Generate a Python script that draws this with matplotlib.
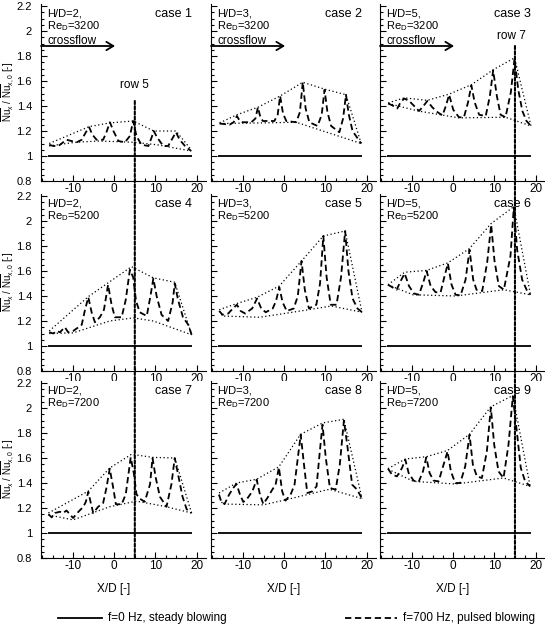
import matplotlib
matplotlib.use('Agg')
import matplotlib.pyplot as plt
from matplotlib.patches import ConnectionPatch
from matplotlib.lines import Line2D
from matplotlib.ticker import MultipleLocator, FuncFormatter

plt.rcParams['font.family'] = ['Liberation Sans', 'DejaVu Sans']
plt.rcParams['mathtext.fontset'] = 'custom'
plt.rcParams['mathtext.rm'] = 'Liberation Sans'
plt.rcParams['mathtext.it'] = 'Liberation Sans:italic'
plt.rcParams['axes.unicode_minus'] = False

# ---- data ----
hd_values = [2, 3, 5]
re_values = [3200, 5200, 7200]
steady_x = [-16.0, 18.8]
steady_y = [1.0, 1.0]

# case 1 : H/D=2, Re=3200
c1_x = [-15.8, -14.8, -13.6, -12.8, -11.6, -10.4, -9.1, -7.9, -6.9, -6.1, -5.3, -4.3, -2.7, -1.9, -1.05,
        -0.2, 1.0, 2.6, 3.8, 4.6, 5.4, 6.6, 8.3, 9.1, 9.6, 10.4, 11.9, 13.1, 14.3, 15.0, 15.9, 17.2, 18.7]
c1_y = [1.09, 1.08, 1.08, 1.10, 1.13, 1.12, 1.11, 1.13, 1.19, 1.23, 1.17, 1.13, 1.13, 1.19, 1.27,
        1.20, 1.12, 1.11, 1.16, 1.28, 1.16, 1.09, 1.08, 1.15, 1.20, 1.15, 1.08, 1.08, 1.15, 1.19, 1.13, 1.08, 1.04]
c1_top_x = [-15.8, -6.1, -1.05, 4.6, 9.6, 15.0, 18.7]
c1_top_y = [1.10, 1.235, 1.265, 1.28, 1.20, 1.20, 1.05]
c1_low_x = [-15.8, -9.5, -3.5, 4.6, 10.4, 18.7]
c1_low_y = [1.08, 1.11, 1.12, 1.11, 1.09, 1.04]

# case 2 : H/D=3, Re=3200
c2_x = [-15.7, -13.3, -12.3, -11.5, -10.8, -10.1, -8.0, -7.0, -6.4, -5.8, -5.2, -2.4, -1.6, -1.0, -0.3, 0.5,
        2.9, 3.8, 4.5, 5.2, 6.1, 8.1, 9.1, 9.8, 10.5, 11.4, 13.4, 14.3, 15.0, 15.7, 16.6, 18.7]
c2_y = [1.26, 1.25, 1.27, 1.32, 1.28, 1.27, 1.27, 1.30, 1.39, 1.31, 1.28, 1.28, 1.33, 1.48, 1.34, 1.28,
        1.27, 1.35, 1.59, 1.38, 1.27, 1.24, 1.33, 1.53, 1.35, 1.24, 1.19, 1.30, 1.49, 1.33, 1.20, 1.10]
c2_top_x = [-15.7, -11.5, -6.4, -1.0, 4.5, 9.8, 15.0, 18.7]
c2_top_y = [1.265, 1.33, 1.39, 1.48, 1.59, 1.535, 1.49, 1.10]
c2_low_x = [-15.7, -5.0, 2.9, 18.7]
c2_low_y = [1.26, 1.265, 1.27, 1.10]

# case 3 : H/D=5, Re=3200
c3_x = [-15.8, -14.8, -13.6, -12.8, -11.9, -10.7, -9.5, -8.3, -7.5, -6.3, -5.1, -3.8, -2.6, -1.8, -1.0, 0.0,
        1.4, 2.6, 3.6, 4.4, 5.2, 6.3, 7.9, 8.9, 9.7, 10.6, 11.5, 12.7, 14.0, 14.9, 15.8, 16.8, 17.8, 18.9]
c3_y = [1.42, 1.405, 1.38, 1.43, 1.46, 1.44, 1.40, 1.36, 1.39, 1.44, 1.39, 1.35, 1.325, 1.40, 1.49, 1.37,
        1.31, 1.31, 1.43, 1.565, 1.43, 1.33, 1.32, 1.48, 1.685, 1.48, 1.33, 1.31, 1.51, 1.78, 1.53, 1.36, 1.28, 1.24]
c3_top_x = [-15.8, -11.9, -6.3, -1.0, 4.4, 9.7, 14.9, 18.9]
c3_top_y = [1.425, 1.465, 1.445, 1.495, 1.57, 1.69, 1.785, 1.24]
c3_low_x = [-15.8, -8.5, 1.4, 12.7, 18.9]
c3_low_y = [1.42, 1.36, 1.305, 1.31, 1.24]

# case 4 : H/D=2, Re=5200
c4_x = [-15.8, -14.8, -14.0, -13.2, -12.0, -11.2, -10.0, -8.7, -7.9, -7.1, -6.3, -5.5, -4.7, -3.5, -2.5, -1.5,
        -0.65, 0.16, 1.8, 2.8, 3.8, 4.6, 5.3, 6.2, 7.9, 8.8, 9.5, 10.3, 11.5, 13.1, 14.2, 14.7, 15.5, 16.7, 18.0, 18.8]
c4_y = [1.11, 1.10, 1.12, 1.11, 1.15, 1.11, 1.12, 1.15, 1.17, 1.29, 1.39, 1.27, 1.19, 1.23, 1.29, 1.49,
        1.33, 1.23, 1.23, 1.37, 1.61, 1.55, 1.36, 1.27, 1.24, 1.40, 1.54, 1.40, 1.25, 1.20, 1.35, 1.50, 1.37, 1.23, 1.17, 1.09]
c4_top_x = [-15.8, -6.3, -1.5, 4.2, 9.5, 14.7, 18.8]
c4_top_y = [1.12, 1.395, 1.505, 1.635, 1.545, 1.51, 1.09]
c4_low_x = [-15.8, -10.0, -1.1, 4.6, 9.5, 18.8]
c4_low_y = [1.10, 1.105, 1.20, 1.225, 1.20, 1.09]

# case 5 : H/D=3, Re=5200
c5_x = [-15.8, -15.0, -13.6, -12.5, -11.5, -10.6, -9.5, -7.8, -6.6, -5.6, -4.5, -2.8, -2.0, -1.2, -0.4, 0.6,
        2.3, 3.3, 4.2, 5.0, 6.0, 7.8, 8.7, 9.5, 10.3, 11.3, 12.7, 13.8, 14.8, 15.6, 16.6, 17.8, 18.9]
c5_y = [1.28, 1.25, 1.26, 1.30, 1.33, 1.28, 1.26, 1.30, 1.38, 1.30, 1.27, 1.30, 1.36, 1.47, 1.35, 1.28,
        1.30, 1.40, 1.68, 1.45, 1.30, 1.33, 1.50, 1.88, 1.55, 1.33, 1.33, 1.55, 1.92, 1.60, 1.38, 1.30, 1.27]
c5_top_x = [-15.8, -11.5, -6.6, -1.2, 4.2, 9.5, 14.8, 18.9]
c5_top_y = [1.29, 1.34, 1.39, 1.48, 1.68, 1.88, 1.92, 1.27]
c5_low_x = [-15.8, -15.0, -6.0, 2.0, 11.5, 18.9]
c5_low_y = [1.28, 1.24, 1.23, 1.27, 1.32, 1.27]

# case 6 : H/D=5, Re=5200
c6_x = [-15.86, -14.81, -13.75, -12.78, -11.81, -10.76, -9.55, -8.33, -7.28, -6.47, -5.50, -4.29, -3.07, -2.10,
        -1.30, -0.41, 0.57, 1.78, 2.99, 3.96, 4.85, 5.66, 7.04, 8.25, 9.22, 10.03, 11.08, 12.30, 13.91, 14.72,
        15.53, 16.75, 17.96, 18.77]
c6_y = [1.49, 1.47, 1.45, 1.52, 1.58, 1.48, 1.42, 1.41, 1.51, 1.60, 1.48, 1.43, 1.43, 1.56,
        1.66, 1.49, 1.41, 1.405, 1.53, 1.77, 1.53, 1.45, 1.44, 1.67, 1.97, 1.68, 1.48, 1.45, 1.72, 2.11,
        1.77, 1.53, 1.44, 1.41]
c6_top_x = [-15.86, -11.81, -6.47, -1.30, 3.96, 9.22, 14.72, 18.77]
c6_top_y = [1.49, 1.59, 1.605, 1.665, 1.78, 1.98, 2.115, 1.41]
c6_low_x = [-15.86, -9.8, 0.6, 12.3, 18.77]
c6_low_y = [1.49, 1.41, 1.40, 1.45, 1.41]

# case 7 : H/D=2, Re=7200
c7_x = [-16.0, -15.2, -14.4, -13.2, -12.4, -11.6, -10.8, -10.0, -8.7, -7.5, -6.9, -6.3, -5.7, -5.1, -3.9, -2.7,
        -1.9, -1.1, -0.24, 0.4, 1.8, 2.8, 4.0, 4.8, 5.4, 6.2, 7.4, 8.7, 9.3, 10.1, 11.1, 12.7, 13.9, 14.7, 15.5,
        16.6, 17.6, 18.8]
c7_y = [1.15, 1.125, 1.16, 1.17, 1.16, 1.18, 1.15, 1.12, 1.17, 1.21, 1.25, 1.33, 1.24, 1.16, 1.21, 1.24,
        1.36, 1.515, 1.36, 1.23, 1.23, 1.31, 1.605, 1.47, 1.31, 1.275, 1.25, 1.39, 1.60, 1.44, 1.29, 1.21, 1.39, 1.60, 1.47,
        1.29, 1.19, 1.16]
c7_top_x = [-16.0, -6.3, -1.1, 4.2, 9.3, 14.7, 18.8]
c7_top_y = [1.16, 1.335, 1.52, 1.63, 1.605, 1.60, 1.16]
c7_low_x = [-16.0, -10.0, -1.1, 5.4, 12.7, 18.8]
c7_low_y = [1.145, 1.105, 1.21, 1.255, 1.21, 1.16]

# case 8 : H/D=3, Re=7200
c8_x = [-15.85, -15.3, -14.5, -13.4, -12.4, -11.6, -10.75, -9.95, -9.0, -7.75, -6.7, -5.9, -5.1, -4.1, -2.9,
        -2.1, -1.3, -0.5, 0.3, 1.55, 2.5, 3.3, 4.0, 4.8, 5.6, 6.8, 7.85, 8.65, 9.3, 10.1, 11.1, 12.5, 13.5, 14.5,
        15.3, 16.5, 17.7, 18.9]
c8_y = [1.307, 1.248, 1.232, 1.307, 1.36, 1.392, 1.307, 1.248, 1.275, 1.333, 1.427, 1.307, 1.232, 1.28, 1.347,
        1.387, 1.525, 1.333, 1.259, 1.307, 1.387, 1.60, 1.787, 1.547, 1.32, 1.333, 1.373, 1.653, 1.867, 1.60, 1.36,
        1.347, 1.547, 1.899, 1.707, 1.387, 1.347, 1.275]
c8_top_x = [-15.85, -11.6, -6.7, -1.3, 4.0, 9.3, 14.5, 18.9]
c8_top_y = [1.32, 1.40, 1.43, 1.53, 1.79, 1.88, 1.91, 1.275]
c8_low_x = [-15.85, -15.0, -5.1, 0.3, 11.0, 18.9]
c8_low_y = [1.305, 1.232, 1.225, 1.265, 1.35, 1.275]

# case 9 : H/D=5, Re=7200
c9_x = [-15.86, -14.89, -13.67, -12.46, -11.65, -10.84, -9.63, -8.41, -7.36, -6.55, -5.75, -4.77, -3.56, -2.35,
        -1.38, -0.57, 0.48, 1.70, 2.91, 3.96, 4.77, 5.74, 6.96, 8.17, 9.14, 9.95, 11.00, 12.22, 13.43, 14.48,
        15.45, 16.42, 17.47, 18.69]
c9_y = [1.515, 1.467, 1.453, 1.52, 1.587, 1.48, 1.419, 1.408, 1.493, 1.605, 1.48, 1.419, 1.413, 1.547,
        1.653, 1.493, 1.40, 1.40, 1.533, 1.787, 1.547, 1.453, 1.44, 1.653, 2.005, 1.707, 1.493, 1.44, 1.707, 2.093,
        1.813, 1.52, 1.413, 1.373]
c9_top_x = [-15.86, -11.65, -6.55, -1.38, 3.96, 9.14, 14.48, 18.69]
c9_top_y = [1.515, 1.592, 1.61, 1.66, 1.79, 2.01, 2.10, 1.373]
c9_low_x = [-15.86, -9.63, 0.48, 12.22, 18.69]
c9_low_y = [1.51, 1.413, 1.392, 1.44, 1.373]

cases = [
    (c1_x, c1_y, c1_top_x, c1_top_y, c1_low_x, c1_low_y),
    (c2_x, c2_y, c2_top_x, c2_top_y, c2_low_x, c2_low_y),
    (c3_x, c3_y, c3_top_x, c3_top_y, c3_low_x, c3_low_y),
    (c4_x, c4_y, c4_top_x, c4_top_y, c4_low_x, c4_low_y),
    (c5_x, c5_y, c5_top_x, c5_top_y, c5_low_x, c5_low_y),
    (c6_x, c6_y, c6_top_x, c6_top_y, c6_low_x, c6_low_y),
    (c7_x, c7_y, c7_top_x, c7_top_y, c7_low_x, c7_low_y),
    (c8_x, c8_y, c8_top_x, c8_top_y, c8_low_x, c8_low_y),
    (c9_x, c9_y, c9_top_x, c9_top_y, c9_low_x, c9_low_y),
]

# ---- layout (pixels of the 545x625 picture) ----
W, H = 545.0, 625.0
lefts = [41, 211, 380]
bottoms = [181, 371, 558]
pw, ph = 165, 177.5

dash_ls = (0, (3.5, 2))
dot_ls = (0, (1, 2))
row_ls = (0, (1.5, 1))

fig = plt.figure(figsize=(5.45, 6.25), dpi=100)
axes = [[None] * 3 for _ in range(3)]
ylab = r'$\overline{\mathrm{Nu}}_\mathrm{x}$ / $\overline{\mathrm{Nu}}_\mathrm{x,0}$ [-]'

for r in range(3):
    for c in range(3):
        ax = fig.add_axes([lefts[c] / W, 1 - bottoms[r] / H, pw / W, ph / H])
        axes[r][c] = ax
        xs, ys, tx, ty, lx, ly = cases[3 * r + c]

        ax.plot(steady_x, steady_y, color='k', lw=1.3, solid_capstyle='butt')
        ax.plot(xs, ys, color='k', lw=1.3, ls=dash_ls)
        ax.plot(tx, ty, color='k', lw=0.9, ls=dot_ls)
        ax.plot(lx, ly, color='k', lw=0.9, ls=dot_ls)

        ax.set_xlim(-17.8, 22.3)
        ax.set_ylim(0.8, 2.22)
        ax.spines['top'].set_visible(False)
        ax.spines['right'].set_visible(False)
        ax.xaxis.set_major_locator(MultipleLocator(10))
        ax.xaxis.set_minor_locator(MultipleLocator(2.5))
        ax.yaxis.set_major_locator(MultipleLocator(0.2))
        ax.yaxis.set_minor_locator(MultipleLocator(0.05))
        ax.yaxis.set_major_formatter(FuncFormatter(lambda v, p: '%g' % round(v, 2)))
        ax.tick_params(which='both', direction='in', top=False, right=False, width=0.8, labelsize=8.5)
        ax.tick_params(which='major', length=4)
        ax.tick_params(which='minor', length=2)
        ax.tick_params(axis='y', pad=6.5, labelsize=8, labelleft=(c == 0))
        ax.tick_params(axis='x', pad=1.5)

        ax.text(0.036, 2.14, 'H/D=%d,' % hd_values[c], fontsize=8, va='center', ha='left',
                transform=ax.get_yaxis_transform())
        ax.text(0.036, 2.04, r'Re$_\mathrm{D}$=%d' % re_values[r], fontsize=8, va='center', ha='left',
                transform=ax.get_yaxis_transform())
        ax.text(0.915, 2.135, 'case %d' % (3 * r + c + 1), fontsize=9, va='center', ha='right',
                transform=ax.get_yaxis_transform())

        if r == 0:
            ax.annotate('', xy=(0.2, 1.88), xytext=(-17.8, 1.88),
                        arrowprops=dict(arrowstyle='->,head_length=0.5,head_width=0.3', lw=1.3, color='k',
                                        shrinkA=0, shrinkB=0))
            ax.text(0.042, 1.895, 'crossflow', fontsize=8.5, va='baseline', ha='left',
                    transform=ax.get_yaxis_transform())
        if c == 0:
            ax.text(-0.2, 0.5, ylab, rotation=90, fontsize=7, ha='center', va='center',
                    transform=ax.transAxes)
        if r == 2:
            ax.text(0.44, -31 / ph, 'X/D [-]', fontsize=8.5, ha='center', va='center',
                    transform=ax.transAxes)

# row markers spanning all three rows
axes[0][0].text(5, 1.568, 'row 5', fontsize=8.5, ha='center', va='center')
axes[0][2].text(14.1, 1.96, 'row 7', fontsize=8.5, ha='center', va='center')
for col, xrow, ytop in [(0, 5, 1.44), (2, 15, 1.88)]:
    con = ConnectionPatch(xyA=(xrow, ytop), coordsA=axes[0][col].transData,
                          xyB=(xrow, 0.8), coordsB=axes[2][col].transData,
                          color='k', lw=1.5, ls=row_ls)
    fig.add_artist(con)

# legend
ly = 1 - 618 / H
fig.add_artist(Line2D([58 / W, 102 / W], [ly, ly], color='k', lw=1.3))
fig.text(108 / W, ly, 'f=0 Hz, steady blowing', fontsize=8.5, va='center', ha='left')
fig.add_artist(Line2D([345 / W, 397 / W], [ly, ly], color='k', lw=1.3, ls=dash_ls))
fig.text(403 / W, ly, 'f=700 Hz, pulsed blowing', fontsize=8.5, va='center', ha='left')

fig.savefig('out.png', dpi=100)
